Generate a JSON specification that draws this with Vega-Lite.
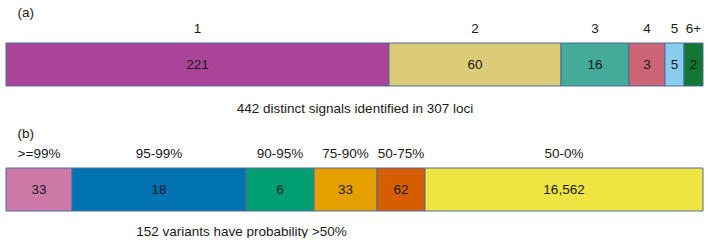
{
  "$schema": "https://vega.github.io/schema/vega-lite/v6.json",
  "padding": {"left": 5, "right": 6, "top": 5, "bottom": 0},
  "spacing": 11,
  "resolve": {"scale": {"color": "independent"}},
  "config": {
    "font": "Liberation Sans",
    "view": {"stroke": null},
    "title": {"font": "Liberation Sans", "fontSize": 13.5, "fontWeight": "normal", "color": "#1a1a1a", "anchor": "start"},
    "text": {"font": "Liberation Sans", "fontSize": 13.5, "color": "#1a1a1a"}
  },
  "datasets": {
    "a": [
      {"panel": "a", "i": 1, "cat": "1", "n": "221", "share": 383},
      {"panel": "a", "i": 2, "cat": "2", "n": "60", "share": 172},
      {"panel": "a", "i": 3, "cat": "3", "n": "16", "share": 68},
      {"panel": "a", "i": 4, "cat": "4", "n": "3", "share": 36},
      {"panel": "a", "i": 5, "cat": "5", "n": "5", "share": 19},
      {"panel": "a", "i": 6, "cat": "6+", "n": "2", "share": 19}
    ],
    "b": [
      {"panel": "b", "i": 1, "cat": ">=99%", "n": "33", "share": 66},
      {"panel": "b", "i": 2, "cat": "95-99%", "n": "18", "share": 174},
      {"panel": "b", "i": 3, "cat": "90-95%", "n": "6", "share": 68},
      {"panel": "b", "i": 4, "cat": "75-90%", "n": "33", "share": 63},
      {"panel": "b", "i": 5, "cat": "50-75%", "n": "62", "share": 48},
      {"panel": "b", "i": 6, "cat": "50-0%", "n": "16,562", "share": 278}
    ]
  },
  "vconcat": [
    {
      "title": {"text": "(a)", "anchor": "start", "dx": 12, "offset": 3},
      "width": 697,
      "height": 43,
      "data": {"name": "a"},
      "encoding": {
        "x": {"field": "share", "type": "quantitative", "stack": "zero",
              "scale": {"domain": [0, 697], "nice": false},
              "axis": {"domain": false, "ticks": false, "labels": false, "grid": false,
                       "title": "442 distinct signals identified in 307 loci",
                       "titleFont": "Liberation Sans", "titleFontSize": 13.5, "titleFontWeight": "normal", "titleColor": "#1a1a1a", "titlePadding": 15}},
        "y": {"field": "panel", "type": "nominal", "axis": null, "scale": {"paddingInner": 0, "paddingOuter": 0}},
        "order": {"field": "i", "type": "quantitative"},
        "detail": {"field": "cat"}
      },
      "layer": [
        {
          "mark": {"type": "bar", "stroke": "#4f6d9c", "strokeWidth": 1},
          "encoding": {
            "color": {"field": "cat", "type": "nominal", "legend": null,
                      "scale": {"domain": ["1", "2", "3", "4", "5", "6+"],
                                "range": ["#aa4499", "#ddcc77", "#44aa99", "#cc6677", "#88ccee", "#117733"]}}
          }
        },
        {
          "mark": {"type": "text", "baseline": "middle", "align": "center"},
          "encoding": {
            "x": {"field": "share", "type": "quantitative", "stack": "zero", "bandPosition": 0.5},
            "text": {"field": "n"}
          }
        },
        {
          "mark": {"type": "text", "baseline": "middle", "align": "center", "dy": -14},
          "encoding": {
            "x": {"field": "share", "type": "quantitative", "stack": "zero", "bandPosition": 0.5},
            "y": {"field": "panel", "type": "nominal", "bandPosition": 0},
            "text": {"field": "cat"}
          }
        }
      ]
    },
    {
      "title": {"text": "(b)", "anchor": "start", "dx": 12, "offset": 7},
      "width": 697,
      "height": 43,
      "data": {"name": "b"},
      "encoding": {
        "x": {"field": "share", "type": "quantitative", "stack": "zero",
              "scale": {"domain": [0, 697], "nice": false},
              "axis": {"domain": false, "ticks": false, "labels": false, "grid": false,
                       "title": "152 variants have probability >50%",
                       "titleFont": "Liberation Sans", "titleFontSize": 13.5, "titleFontWeight": "normal", "titleColor": "#1a1a1a", "titlePadding": 13, "titleX": 235}},
        "y": {"field": "panel", "type": "nominal", "axis": null, "scale": {"paddingInner": 0, "paddingOuter": 0}},
        "order": {"field": "i", "type": "quantitative"},
        "detail": {"field": "cat"}
      },
      "layer": [
        {
          "mark": {"type": "bar", "stroke": "#4f6d9c", "strokeWidth": 1},
          "encoding": {
            "color": {"field": "cat", "type": "nominal", "legend": null,
                      "scale": {"domain": [">=99%", "95-99%", "90-95%", "75-90%", "50-75%", "50-0%"],
                                "range": ["#cc79a7", "#0072b2", "#009e73", "#e69f00", "#d55e00", "#f0e442"]}}
          }
        },
        {
          "mark": {"type": "text", "baseline": "middle", "align": "center"},
          "encoding": {
            "x": {"field": "share", "type": "quantitative", "stack": "zero", "bandPosition": 0.5},
            "text": {"field": "n"}
          }
        },
        {
          "mark": {"type": "text", "baseline": "middle", "align": "center", "dy": -14},
          "encoding": {
            "x": {"field": "share", "type": "quantitative", "stack": "zero", "bandPosition": 0.5},
            "y": {"field": "panel", "type": "nominal", "bandPosition": 0},
            "text": {"field": "cat"}
          }
        }
      ]
    }
  ]
}
